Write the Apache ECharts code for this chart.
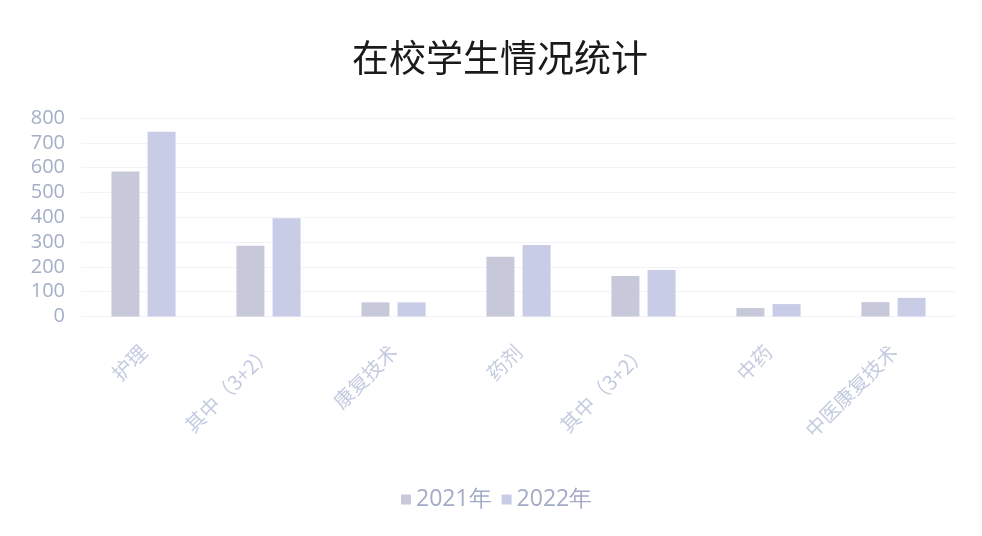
<!DOCTYPE html>
<html>
<head>
<meta charset="utf-8">
<script src="https://cdn.jsdelivr.net/npm/echarts@6/dist/echarts.min.js"></script>
<style>html,body{margin:0;padding:0;background:#fff}#c{width:982px;height:536px}</style>
</head>
<body>
<div id="c"></div>
<script>
const categories = ['护理', '其中（3+2）', '康复技术', '药剂', '其中（3+2）', '中药', '中医康复技术'];
const series2021 = [584, 285, 57, 241, 163, 34, 58];
const series2022 = [745, 396, 57, 288, 187, 50, 75];
const seriesNames = ['2021年', '2022年'];

const chart = echarts.init(document.getElementById('c'));
chart.setOption({
  animation: false,
  title: {
    text: '在校学生情况统计',
    left: 347,
    top: 34,
    textStyle: { fontFamily: 'Noto Sans CJK SC', fontSize: 37, fontWeight: 'normal', color: '#1a1a1a' }
  },
  legend: {
    bottom: 20,
    left: 396,
    itemWidth: 10,
    itemHeight: 10,
    itemGap: 10,
    icon: 'rect',
    textStyle: { fontFamily: 'Open Sans', fontSize: 23, color: '#a3abc6' },
    data: seriesNames
  },
  grid: { left: 81, right: 26, top: 118, bottom: 219.5, containLabel: false },
  xAxis: {
    type: 'category',
    data: categories,
    axisLine: { show: false },
    axisTick: { show: false },
    axisLabel: {
      rotate: 45,
      margin: 32,
      interval: 0,
      fontFamily: 'Noto Sans CJK SC',
      fontSize: 20,
      color: '#c4cce0'
    }
  },
  yAxis: {
    type: 'value',
    min: 0,
    max: 800,
    interval: 100,
    axisLine: { show: false },
    axisTick: { show: false },
    axisLabel: { fontFamily: 'Open Sans', fontSize: 20, color: '#a3afc7', margin: 16 },
    splitLine: { lineStyle: { color: '#f2f3f7', width: 1 } }
  },
  series: [
    {
      name: seriesNames[0],
      type: 'bar',
      data: series2021,
      barWidth: 28,
      barGap: '29%',
      itemStyle: { color: '#c7c8da' }
    },
    {
      name: seriesNames[1],
      type: 'bar',
      data: series2022,
      barWidth: 28,
      itemStyle: { color: '#c9cce6' }
    }
  ]
});
</script>
</body>
</html>
